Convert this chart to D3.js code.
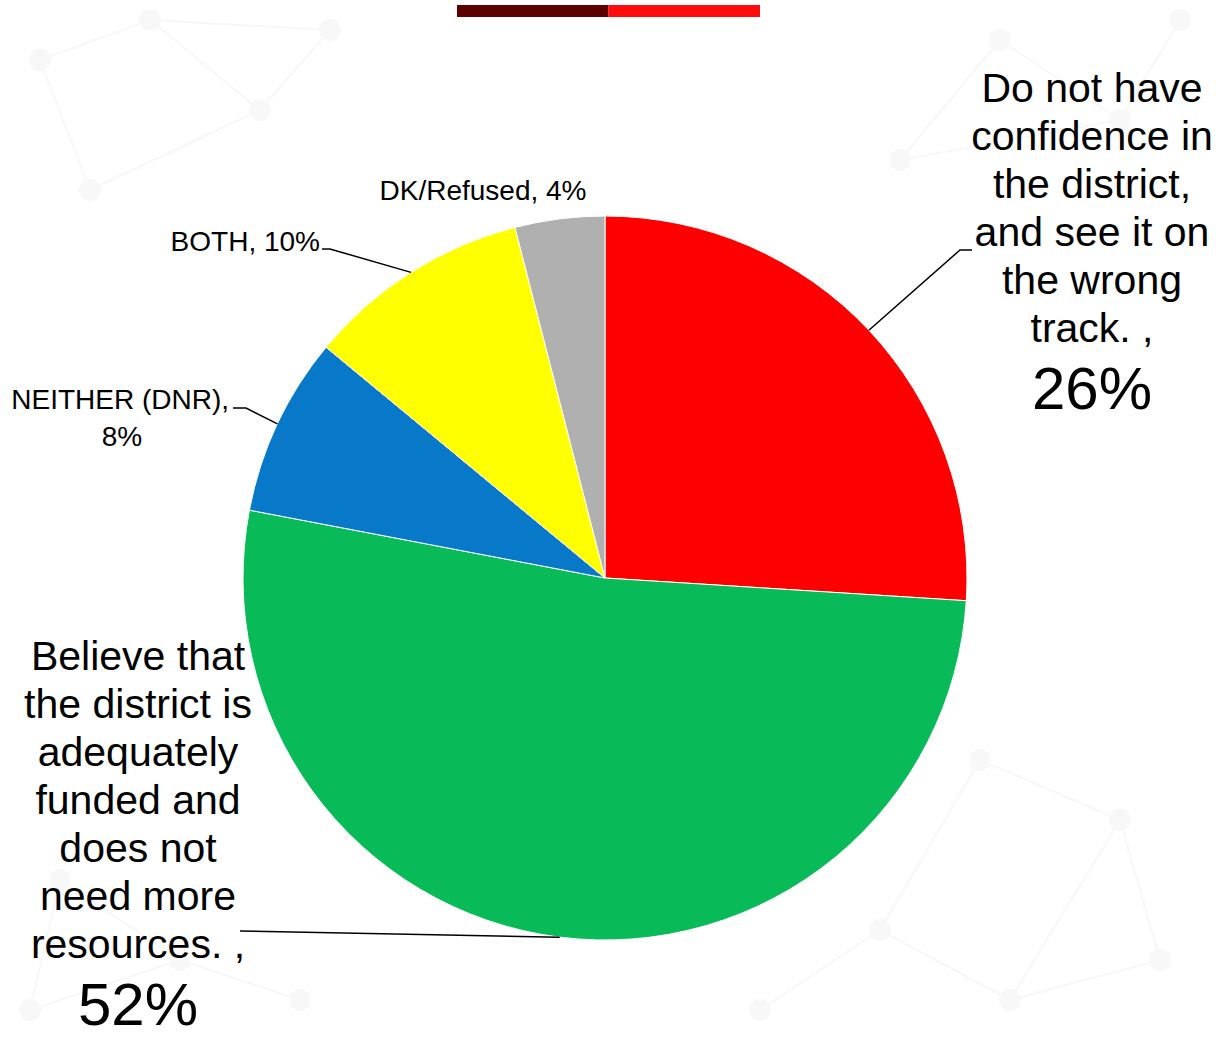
<!DOCTYPE html>
<html>
<head>
<meta charset="utf-8">
<script src="https://cdn.jsdelivr.net/npm/d3@7"></script>
<style>
  html, body { margin: 0; padding: 0; background: #ffffff; }
  svg { display: block; }
  text { font-family: "Liberation Sans Narrow", "Arial Narrow", "Liberation Sans", sans-serif; fill: #000; }
</style>
</head>
<body>
<svg id="chart" width="1216" height="1037"></svg>
<script>
// Survey answers, clockwise from 12 o'clock
const categories = [
  "Do not have confidence in the district, and see it on the wrong track. ",
  "Believe that the district is adequately funded and does not need more resources. ",
  "NEITHER (DNR)",
  "BOTH",
  "DK/Refused"
];
const values = [26, 52, 8, 10, 4];
const colors = ["#ff0000", "#08bb58", "#0878c9", "#ffff00", "#b0b0b0"];

// Label lines as they wrap on the page
const labelLines = [
  ["Do not have", "confidence in", "the district,", "and see it on", "the wrong", "track. ,"],
  ["Believe that", "the district is", "adequately", "funded and", "does not", "need more", "resources. ,"],
  ["NEITHER (DNR),"],
  ["BOTH, 10%"],
  ["DK/Refused, 4%"]
];

const W = 1216, H = 1037;
const cx = 605, cy = 578, R = 362;

const svg = d3.select("#chart");

// faint network texture in the backdrop
const bgNodes = [[40,60],[150,20],[260,110],[90,190],[330,30],[1000,40],[1120,120],[1180,20],[900,160],
                 [60,880],[180,960],[30,1010],[300,1000],[980,760],[1120,820],[880,930],[1010,1000],[1160,960],[760,1010]];
const bgLinks = [[0,1],[1,2],[2,3],[0,3],[1,4],[2,4],[5,6],[6,7],[5,8],[6,8],[9,10],[10,11],[10,12],[9,11],
                 [13,14],[13,15],[15,16],[16,17],[14,17],[15,18],[14,16]];
const bg = svg.append("g").attr("stroke", "#f7f7f7").attr("fill", "none").attr("stroke-width", 2);
bg.selectAll("line").data(bgLinks).join("line")
  .attr("x1", d => bgNodes[d[0]][0]).attr("y1", d => bgNodes[d[0]][1])
  .attr("x2", d => bgNodes[d[1]][0]).attr("y2", d => bgNodes[d[1]][1]);
bg.selectAll("circle").data(bgNodes).join("circle")
  .attr("cx", d => d[0]).attr("cy", d => d[1]).attr("r", 11).attr("fill", "#f8f8f8").attr("stroke", "none");

// header accent bar
const barX = d3.scaleLinear().domain([0, 2]).range([457, 760]);
const accent = ["#5c0000", "#ff0d0d"];
svg.append("g").selectAll("rect").data(accent).join("rect")
  .attr("x", (d, i) => barX(i)).attr("y", 5)
  .attr("width", (d, i) => barX(i + 1) - barX(i)).attr("height", 12)
  .attr("fill", d => d);

const pie = d3.pie().sort(null).value(d => d).startAngle(0).endAngle(2 * Math.PI);
const arcs = pie(values);
const arc = d3.arc().innerRadius(0).outerRadius(R);

const g = svg.append("g").attr("transform", `translate(${cx},${cy})`);
g.selectAll("path").data(arcs).join("path")
  .attr("d", arc)
  .attr("fill", (d, i) => colors[i])
  .attr("stroke", "#ffffff")
  .attr("stroke-width", 1);

// point on the rim at the middle of each slice
function rim(d) {
  const a = (d.startAngle + d.endAngle) / 2;
  return [cx + R * Math.sin(a), cy - R * Math.cos(a)];
}

const lines = svg.append("g").attr("fill", "none").attr("stroke", "#000").attr("stroke-width", 1.5);

// leader lines from the slice rim to its label
const leaders = [
  { idx: 0, pts: [[960, 250], [972, 250]] },
  { idx: 1, pts: [[240, 931]] },
  { idx: 2, pts: [[246, 408], [233, 408]] },
  { idx: 3, pts: [[330, 249], [322, 249]] }
];
leaders.forEach(L => {
  const p = [rim(arcs[L.idx])].concat(L.pts);
  lines.append("path").attr("d", d3.line()(p));
});

// big labels
const big = svg.append("g");
function block(lines, x, y0, step, size) {
  const t = big.append("text").attr("text-anchor", "middle").attr("font-size", size);
  lines.forEach((s, i) => t.append("tspan").attr("x", x).attr("y", y0 + i * step).text(s));
}
block(labelLines[0], 1092, 102, 48, 41);
big.append("text").attr("text-anchor", "middle").attr("x", 1092).attr("y", 409)
  .attr("font-size", 60).text(values[0] + "%");

block(labelLines[1], 138, 670, 48, 41);
big.append("text").attr("text-anchor", "middle").attr("x", 138).attr("y", 1025)
  .attr("font-size", 60).text(values[1] + "%");

// small labels
const small = svg.append("g").attr("font-size", 28);
small.append("text").attr("text-anchor", "end").attr("x", 229).attr("y", 409).text(labelLines[2][0]);
small.append("text").attr("text-anchor", "middle").attr("x", 122).attr("y", 446).text(values[2] + "%");
small.append("text").attr("text-anchor", "end").attr("x", 320).attr("y", 251).text(labelLines[3][0]);
small.append("text").attr("text-anchor", "middle").attr("x", 483).attr("y", 200).text(labelLines[4][0]);
</script>
</body>
</html>
